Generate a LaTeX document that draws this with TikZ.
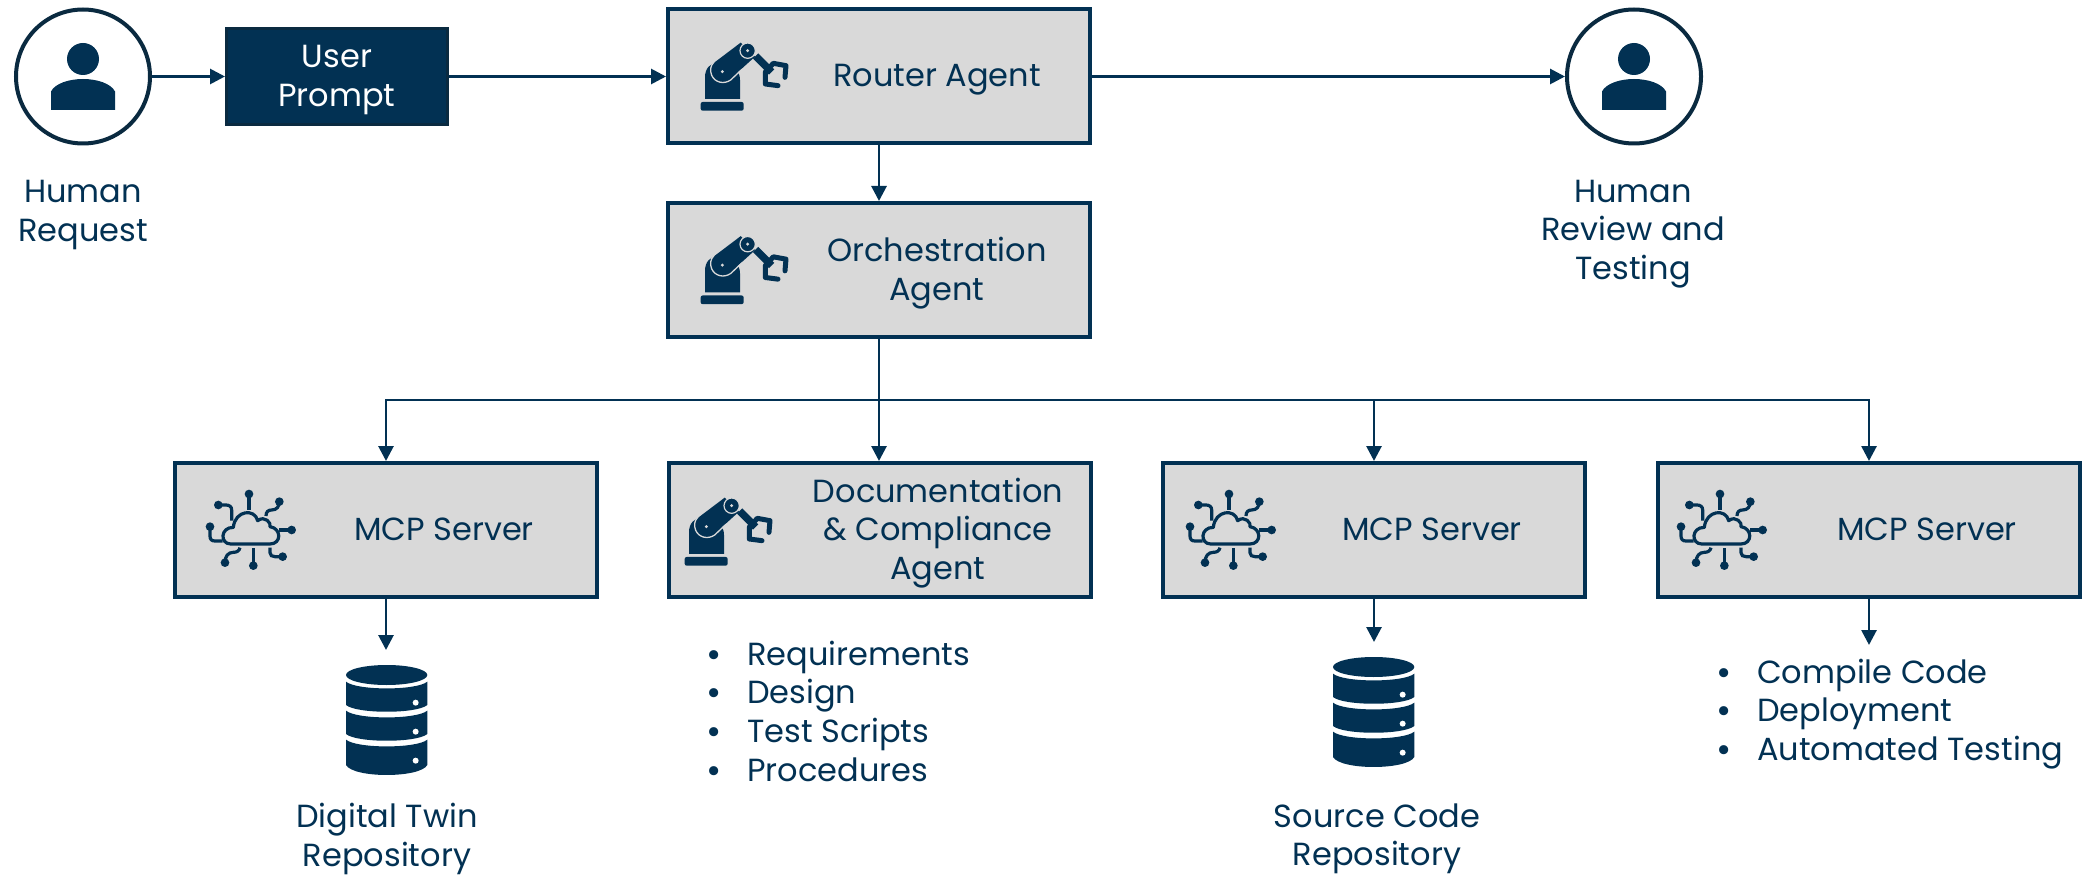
\documentclass[tikz,border=0pt]{standalone}
\usepackage{fontspec}
\setmainfont{Poppins}
\usetikzlibrary{arrows.meta}
\definecolor{navy}{HTML}{023153}
\definecolor{navyedge}{HTML}{0A2A40}
\definecolor{panel}{HTML}{D9D9D9}
\newcommand{\blt}{\makebox[41pt][l]{\raisebox{-2pt}{\fontsize{37}{37}\selectfont •}}}
\newcommand{\robotIcon}[2]{%
\begin{scope}[shift={(#1,#2)},x=0.3333pt,y=-0.3333pt]
  \fill[navy,rounded corners=2pt] (122,332) -- (122,306) -- (251,306) -- (251,332) -- cycle;
  \fill[navy] (135,297) -- (135,232) .. controls (135,205) and (150,190) .. (175,185) -- (225,205) .. controls (235,215) and (240,225) .. (240,240) -- (240,297) -- cycle;
  \fill[navy] (160,190) -- (242,128) -- (285,170) -- (210,238) .. controls (190,252) and (165,245) .. (157,225) .. controls (152,210) and (153,198) .. (160,190) -- cycle;
  \draw[panel,line width=1.3pt] (162,186) .. controls (150,198) and (150,212) .. (155,226) .. controls (165,248) and (192,254) .. (212,240) -- (246,208);
  \draw[panel,line width=1.2pt,fill=navy] (263,152) circle[radius=23];
  \fill[panel] (263,152) circle[radius=5];
  \fill[panel] (187,215) circle[radius=5];
  \draw[navy,line width=7.5pt] (287,168) -- (335,216);
  \draw[navy,line width=5pt,line cap=round,line join=round] (375,232) -- (378,197) -- (340,190) -- (316,216) -- (316,252) -- (354,257);
\end{scope}}
\newcommand{\cloudIcon}[2]{%
\begin{scope}[shift={(#1,#2)},x=0.3333pt,y=-0.3333pt,navy,line width=3.2pt]
  \draw[line join=round] (122,222) .. controls (90,222) and (90,172) .. (130,172)
    .. controls (135,120) and (195,115) .. (203,152)
    .. controls (225,135) and (245,160) .. (240,170)
    .. controls (275,175) and (275,222) .. (240,222) -- cycle;
  \draw (177,120) -- (177,72);
  \draw (125,152) -- (125,120) .. controls (125,110) and (118,105) .. (108,105) -- (85,105);
  \draw (228,138) .. controls (228,125) and (235,120) .. (245,120) .. controls (260,120) and (268,110) .. (268,95);
  \draw (268,180) -- (305,180);
  \draw (98,213) -- (75,213) .. controls (65,213) and (60,208) .. (60,198) -- (60,170);
  \draw (150,233) .. controls (148,243) and (140,247) .. (130,247) .. controls (115,247) and (105,258) .. (105,278);
  \draw (190,235) -- (190,287);
  \draw (240,233) -- (240,248) .. controls (240,256) and (246,260) .. (255,260) -- (278,260);
  \foreach \px/\py in {177/72,85/105,268/95,305/180,60/170,105/278,190/287,278/260}
    \fill (\px,\py) circle[radius=13];
\end{scope}}
\newcommand{\dbIcon}[2]{%
\begin{scope}[shift={(#1,#2)},x=0.3333pt,y=-0.3333pt]
  \fill[navy] (200,75) ellipse[x radius=122,y radius=30];
  \foreach \dy in {0,87}
    \fill[navy] (78,\dy+95) .. controls (110,\dy+122) and (290,\dy+122) .. (322,\dy+95) -- (322,\dy+165) .. controls (290,\dy+192) and (110,\dy+192) .. (78,\dy+165) -- cycle;
  \fill[navy] (78,269) .. controls (110,296) and (290,296) .. (322,269) -- (322,345) .. controls (300,385) and (100,385) .. (78,345) -- cycle;
  \foreach \dy in {158,245,332}
    \fill[white] (287,\dy) circle[radius=9];
\end{scope}}
\newcommand{\personIcon}[2]{%
\begin{scope}[shift={(#1,#2)}]
  \fill[navy] (0,-17.5) circle[radius=16];
  \fill[navy] (-32,33.5) -- (-32,15) .. controls (-28,7) and (-14,2.5) .. (0,2.5) .. controls (14,2.5) and (28,7) .. (32,15) -- (32,33.5) -- cycle;
\end{scope}}
\tikzset{
  agentbox/.style={draw=navy,fill=panel,line width=4pt,minimum width=422pt,minimum height=134pt,inner sep=0pt},
  promptbox/.style={draw=navyedge,fill=navy,line width=3pt,minimum width=221pt,minimum height=96pt,inner sep=0pt},
  personring/.style={circle,draw=navyedge,fill=white,line width=4pt,minimum size=134pt,inner sep=0pt},
  txt/.style={text=navy,align=center,inner sep=0pt,font=\fontsize{32}{38.6}\selectfont},
  link/.style={navy,line width=2.8pt,-{Triangle[length=15pt,width=15pt]}}
}
\begin{document}
\begin{tikzpicture}[x=1pt,y=-1pt]
\useasboundingbox (0,0) rectangle (2084,877);
\node[personring] (hreq) at (83,76.5) {};
\node[personring] (hrev) at (1634,76.5) {};
\personIcon{83}{76.5}
\personIcon{1634}{76.5}
\node[promptbox] (prompt) at (337,76.5) {};
\node[txt,text=white] (promptt) at (337,80) {User\\Prompt};
\node[agentbox] (router) at (879,76.5) {};
\node[agentbox] (orch) at (879,270) {};
\node[agentbox] (mcpa) at (386,530) {};
\node[agentbox] (doc) at (880,530) {};
\node[agentbox] (mcpb) at (1374,530) {};
\node[agentbox] (mcpc) at (1869,530) {};
\robotIcon{660}{0}
\robotIcon{660}{193.5}
\robotIcon{644}{455}
\cloudIcon{190}{470}
\cloudIcon{1170}{470}
\cloudIcon{1661}{470}
\dbIcon{320}{650}
\dbIcon{1307}{642}
\node[txt] (hreqt) at (83,215) {Human\\Request};
\node[txt] (hrevt) at (1633,234) {Human\\Review and\\Testing};
\node[txt] (routert) at (937,80) {Router Agent};
\node[txt] (orcht) at (937,273) {Orchestration\\Agent};
\node[txt] (mcpat) at (444,529) {MCP Server};
\node[txt] (doct) at (938,533) {Documentation\\\& Compliance\\Agent};
\node[txt] (mcpbt) at (1432,529) {MCP Server};
\node[txt] (mcpct) at (1927,529) {MCP Server};
\node[txt] (dbat) at (387,839) {Digital Twin\\Repository};
\node[txt] (dbbt) at (1377,839) {Source Code\\Repository};
\node[txt,align=left,anchor=west] (lista) at (706,712) {\blt Requirements\\\blt Design\\\blt Test Scripts\\\blt Procedures};
\node[txt,align=left,anchor=west] (listb) at (1716,714) {\blt Compile Code\\\blt Deployment\\\blt Automated Testing};
\coordinate (bus) at (879,400);
\coordinate (dba) at (386,650);
\coordinate (dbb) at (1374,642);
\coordinate (lb) at (1869,645);
\draw[link] (hreq) -- (prompt);
\draw[link] (prompt) -- (router);
\draw[link] (router) -- (hrev);
\draw[link] (router) -- (orch);
\draw[link] (orch.south) -- (orch.south |- doc.north);
\draw[link] (bus) -| (mcpa.north);
\draw[link] (bus) -| (mcpb.north);
\draw[link] (bus) -| (mcpc.north);
\draw[link] (mcpa) -- (dba);
\draw[link] (mcpb) -- (dbb);
\draw[link] (mcpc) -- (lb);
\end{tikzpicture}
\end{document}
